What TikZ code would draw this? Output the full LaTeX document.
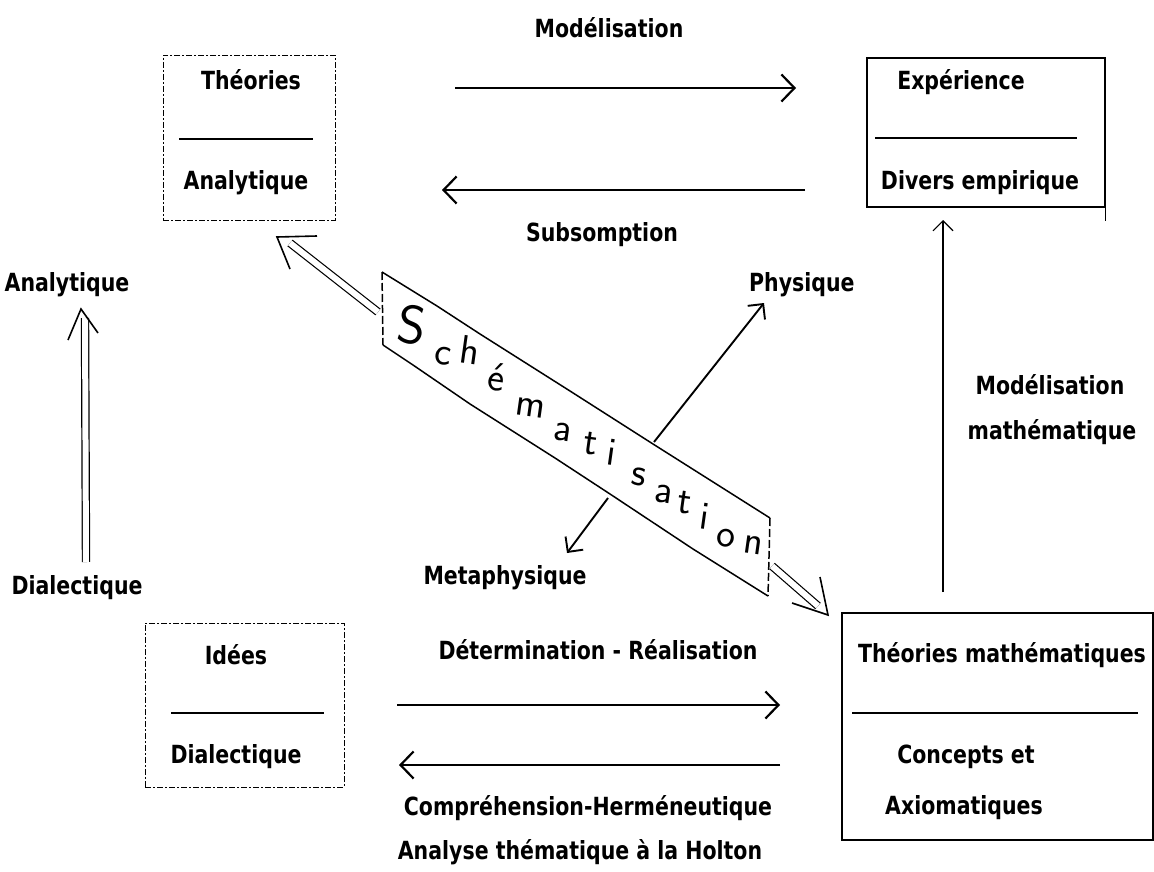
\documentclass[tikz,border=0pt]{standalone}
\usepackage{fontspec}
\setmainfont{DejaVu Sans}[FakeStretch=0.82]
\usetikzlibrary{arrows.meta,calc}
\begin{document}
\begin{tikzpicture}[x=1pt,y=-1pt,
  lbl/.style={font=\fontsize{25}{29}\selectfont\bfseries, inner sep=0pt, anchor=center},
  hw/.style={font=\fontsize{40}{40}\selectfont\sffamily, inner sep=0pt, anchor=center, rotate=-8},
  dbox/.style={draw, line width=0.8pt, dash pattern=on 6pt off 2pt on 2pt off 2pt, minimum width=#1, inner sep=0pt},
  sbox/.style={draw, line width=1.2pt, inner sep=0pt},
  divider/.style={line width=2.6pt},
  arr/.style={line width=2.2pt, -{Straight Barb[length=13pt,width=27pt,line width=2.2pt]}},
  sarr/.style={line width=1.9pt, -{Straight Barb[length=11pt,width=22pt,line width=1.9pt]}},
  tarr/.style={line width=1.1pt, -{Straight Barb[length=10pt,width=20pt,line width=1.1pt]}},
  dbl/.style={double, double distance=6pt, line width=1.2pt},
  barb/.style={line width=1.6pt, line join=miter},
  band/.style={line width=1.5pt},
  bandside/.style={line width=1.5pt, dash pattern=on 8pt off 3pt}
]
\useasboundingbox (0,0) rectangle (1154,872);

% ---------- boxes ----------
\node[dbox=172pt, minimum height=165pt] (theo) at (249,137.5) {};
\node[sbox, minimum width=238pt, minimum height=149pt] (exp) at (986,132.5) {};
\node[dbox=199pt, minimum height=164pt] (idees) at (244.5,705) {};
\node[sbox, minimum width=311pt, minimum height=227pt] (math) at (997.5,726.5) {};
\draw[line width=1.2pt] (exp.north east) -- ++(0,164);

% box texts
\node[lbl] (theoT) at (251,80) {Théories};
\draw[divider] (179,139) -- (313,139);
\node[lbl] (theoB) at (246,183) {Analytique};

\node[lbl] (expT) at (961,82) {Expérience};
\draw[divider] (875,138) -- (1077,138);
\node[lbl] (expB) at (980,183) {Divers empirique};

\node[lbl] (ideT) at (236,655) {Idées};
\draw[divider] (171,713) -- (324,713);
\node[lbl] (ideB) at (236,757) {Dialectique};

\node[lbl] (matT) at (1002,655) {Théories mathématiques};
\draw[divider] (852,713) -- (1138,713);
\node[lbl] (matB1) at (966,757) {Concepts et};
\node[lbl] (matB2) at (964,808) {Axiomatiques};

% ---------- labels ----------
\node[lbl] (model) at (609,28) {Modélisation};
\node[lbl] (subs) at (602,235) {Subsomption};
\node[lbl] (anaL) at (67,285) {Analytique};
\node[lbl] (diaL) at (77,588) {Dialectique};
\node[lbl, anchor=west] (phys) at (749,285) {Physique};
\node[lbl] (meta) at (505,578) {Metaphysique};
\node[lbl] (modm1) at (1050,385) {Modélisation};
\node[lbl] (modm2) at (1052,432) {mathématique};
\node[lbl] (deter) at (598,650) {Détermination - Réalisation};
\node[lbl] (compr) at (588,808) {Compréhension-Herméneutique};
\node[lbl] (holt) at (580,852) {Analyse thématique à la Holton};

% ---------- horizontal / vertical arrows ----------
\coordinate (m1) at (455,88);   \coordinate (m2) at (796,88);
\coordinate (s1) at (805,190);  \coordinate (s2) at (442,190);
\coordinate (d1) at (397,705);  \coordinate (d2) at (780,705);
\coordinate (c1) at (780,765);  \coordinate (c2) at (399,765);
\coordinate (v1) at (943,592);  \coordinate (v2) at (943,220);
\draw[arr] (m1) -- (m2);
\draw[arr] (s1) -- (s2);
\draw[arr] (d1) -- (d2);
\draw[arr] (c1) -- (c2);
\draw[tarr] (v1) -- (v2);

% ---------- banner ----------
\coordinate (btl) at (382,272);
\coordinate (btr) at (770,518);
\coordinate (bbr) at (768,596);
\coordinate (bbl) at (383,345);
\draw[band] (btl) -- (437,306) -- (480,334) -- (570,391) -- (653,444) -- (btr);
\draw[band] (bbl) -- (413,365) -- (470,404) -- (555,458) -- (610,494) -- (693,549) -- (bbr);
\draw[bandside] (btl) -- (bbl);
\draw[bandside] (btr) -- (bbr);

% handwritten word
\node[hw, font=\fontsize{54}{54}\selectfont\sffamily] (l1) at (412,325) {S};
\node[hw] (l2) at (443,356) {c};
\node[hw] (l3) at (470,350) {h};
\node[hw] (l4) at (497,377) {é};
\node[hw] (l5) at (530,408) {m};
\node[hw] (l6) at (563,432) {a};
\node[hw] (l7) at (591,444) {t};
\node[hw] (l8) at (612,452) {i};
\node[hw] (l9) at (639,477) {s};
\node[hw] (l10) at (664,494) {a};
\node[hw] (l11) at (685,503) {t};
\node[hw] (l12) at (705,516) {i};
\node[hw] (l13) at (726,538) {o};
\node[hw] (l14) at (753,545) {n};

% physique / metaphysique
\coordinate (p1) at (654,442); \coordinate (p2) at (764,303);
\coordinate (q1) at (608,498); \coordinate (q2) at (567,553);
\draw[sarr] (p1) -- (p2);
\draw[sarr] (q1) -- (q2);

% ---------- double arrows ----------
\coordinate (ul0) at (378,312); \coordinate (ul1) at (290,243);
\coordinate (ult) at (277,237); \coordinate (ulw1) at (317,236); \coordinate (ulw2) at (290,269);
\draw[dbl] (ul0) -- (ul1);
\draw[barb] (ulw1) -- (ult) -- (ulw2);

\coordinate (lr0) at (772,566); \coordinate (lr1) at (818,606);
\coordinate (lrt) at (828,615); \coordinate (lrw1) at (820,577); \coordinate (lrw2) at (792,603);
\draw[dbl] (lr0) -- (lr1);
\draw[barb] (lrw1) -- (lrt) -- (lrw2);

\coordinate (lv0) at (86,562); \coordinate (lv1) at (85,318);
\coordinate (lvt) at (81,309); \coordinate (lvw1) at (68,340); \coordinate (lvw2) at (98,333);
\draw[dbl] (lv0) -- (lv1);
\draw[barb] (lvw1) -- (lvt) -- (lvw2);
\end{tikzpicture}
\end{document}
